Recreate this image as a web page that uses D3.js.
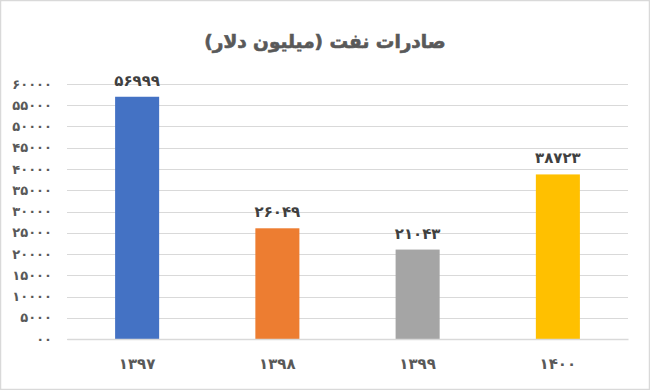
<!DOCTYPE html>
<html>
<head>
    <meta charset="utf-8">
    <script src="https://cdn.jsdelivr.net/npm/d3@7/dist/d3.min.js"></script>
    <style>
        * { margin: 0; padding: 0; }
        body { background: #fff; }
        #chart { display: block; }
    </style>
</head>
<body>
    <svg id="chart" width="650" height="390"></svg>
    <script>
        // data
        var years = ["۱۳۹۷", "۱۳۹۸", "۱۳۹۹", "۱۴۰۰"];
        var exports = [56999, 26049, 21043, 38723];
        var valueLabels = ["۵۶۹۹۹", "۲۶۰۴۹", "۲۱۰۴۳", "۳۸۷۲۳"];
        var barColors = ["#4472c4", "#ed7d31", "#a5a5a5", "#ffc000"];
        var tickValues = [0, 5000, 10000, 15000, 20000, 25000, 30000, 35000, 40000, 45000, 50000, 55000, 60000];
        var tickLabels = ["۰۰", "۵۰۰۰", "۱۰۰۰۰", "۱۵۰۰۰", "۲۰۰۰۰", "۲۵۰۰۰", "۳۰۰۰۰", "۳۵۰۰۰", "۴۰۰۰۰", "۴۵۰۰۰", "۵۰۰۰۰", "۵۵۰۰۰", "۶۰۰۰۰"];
        var title = "صادرات نفت (میلیون دلار)";

        var font = "'DejaVu Sans', sans-serif";
        var textColor = "#595959";

        var margin = { top: 84, right: 22, bottom: 51, left: 67 },
            width = 650 - margin.left - margin.right,
            height = 390 - margin.top - margin.bottom;

        var root = d3.select("#chart");

        root.append("rect")
            .attr("x", 0.5).attr("y", 0.5)
            .attr("width", 649).attr("height", 389)
            .attr("fill", "#fff")
            .attr("stroke", "#d9d9d9")
            .attr("stroke-width", 1.5);

        root.append("text")
            .attr("x", 325)
            .attr("y", 48)
            .attr("text-anchor", "middle")
            .attr("direction", "rtl")
            .style("font-family", font)
            .style("font-weight", "bold")
            .style("font-size", "18.5px")
            .attr("fill", textColor)
            .attr("stroke", textColor)
            .attr("stroke-width", 0.6)
            .text(title);

        var svg = root.append("g")
            .attr("transform", "translate(" + margin.left + "," + margin.top + ")");

        var x = d3.scaleBand()
            .domain(years)
            .range([0, width])
            .paddingInner(0.686)
            .paddingOuter(0.343);

        var y = d3.scaleLinear()
            .domain([0, 60000])
            .range([height, 0]);

        // gridlines
        svg.append("g")
            .selectAll("line")
            .data(tickValues)
            .enter()
            .append("line")
            .attr("x1", 0)
            .attr("x2", width)
            .attr("y1", function (d) { return Math.round(y(d)) + 0.5; })
            .attr("y2", function (d) { return Math.round(y(d)) + 0.5; })
            .attr("stroke", "#d9d9d9")
            .attr("stroke-width", 1);

        // y axis labels
        var yAxis = svg.append("g")
            .call(d3.axisLeft(y)
                .tickValues(tickValues)
                .tickSize(0)
                .tickPadding(15)
                .tickFormat(function (d, i) { return tickLabels[i]; }));
        yAxis.select(".domain").remove();
        yAxis.selectAll("text")
            .style("font-family", font)
            .style("font-weight", "bold")
            .style("font-size", "13px")
            .attr("fill", textColor);

        // bars
        svg.selectAll("rect.bar")
            .data(exports)
            .enter()
            .append("rect")
            .attr("class", "bar")
            .attr("x", function (d, i) { return x(years[i]); })
            .attr("y", function (d) { return y(d); })
            .attr("width", x.bandwidth())
            .attr("height", function (d) { return height - y(d); })
            .attr("fill", function (d, i) { return barColors[i]; });

        // value labels
        svg.selectAll("text.val")
            .data(exports)
            .enter()
            .append("text")
            .attr("class", "val")
            .attr("x", function (d, i) { return x(years[i]) + x.bandwidth() / 2; })
            .attr("y", function (d) { return y(d) - 11; })
            .attr("text-anchor", "middle")
            .style("font-family", font)
            .style("font-weight", "bold")
            .style("font-size", "15px")
            .attr("fill", "#404040")
            .text(function (d, i) { return valueLabels[i]; });

        // x axis
        var xAxis = svg.append("g")
            .attr("transform", "translate(0," + height + ")")
            .call(d3.axisBottom(x).tickSize(0).tickPadding(19));
        xAxis.select(".domain")
            .attr("stroke", "#d9d9d9")
            .attr("stroke-width", 1.5);
        xAxis.selectAll("text")
            .style("font-family", font)
            .style("font-weight", "bold")
            .style("font-size", "15px")
            .attr("fill", textColor);
    </script>
</body>
</html>
